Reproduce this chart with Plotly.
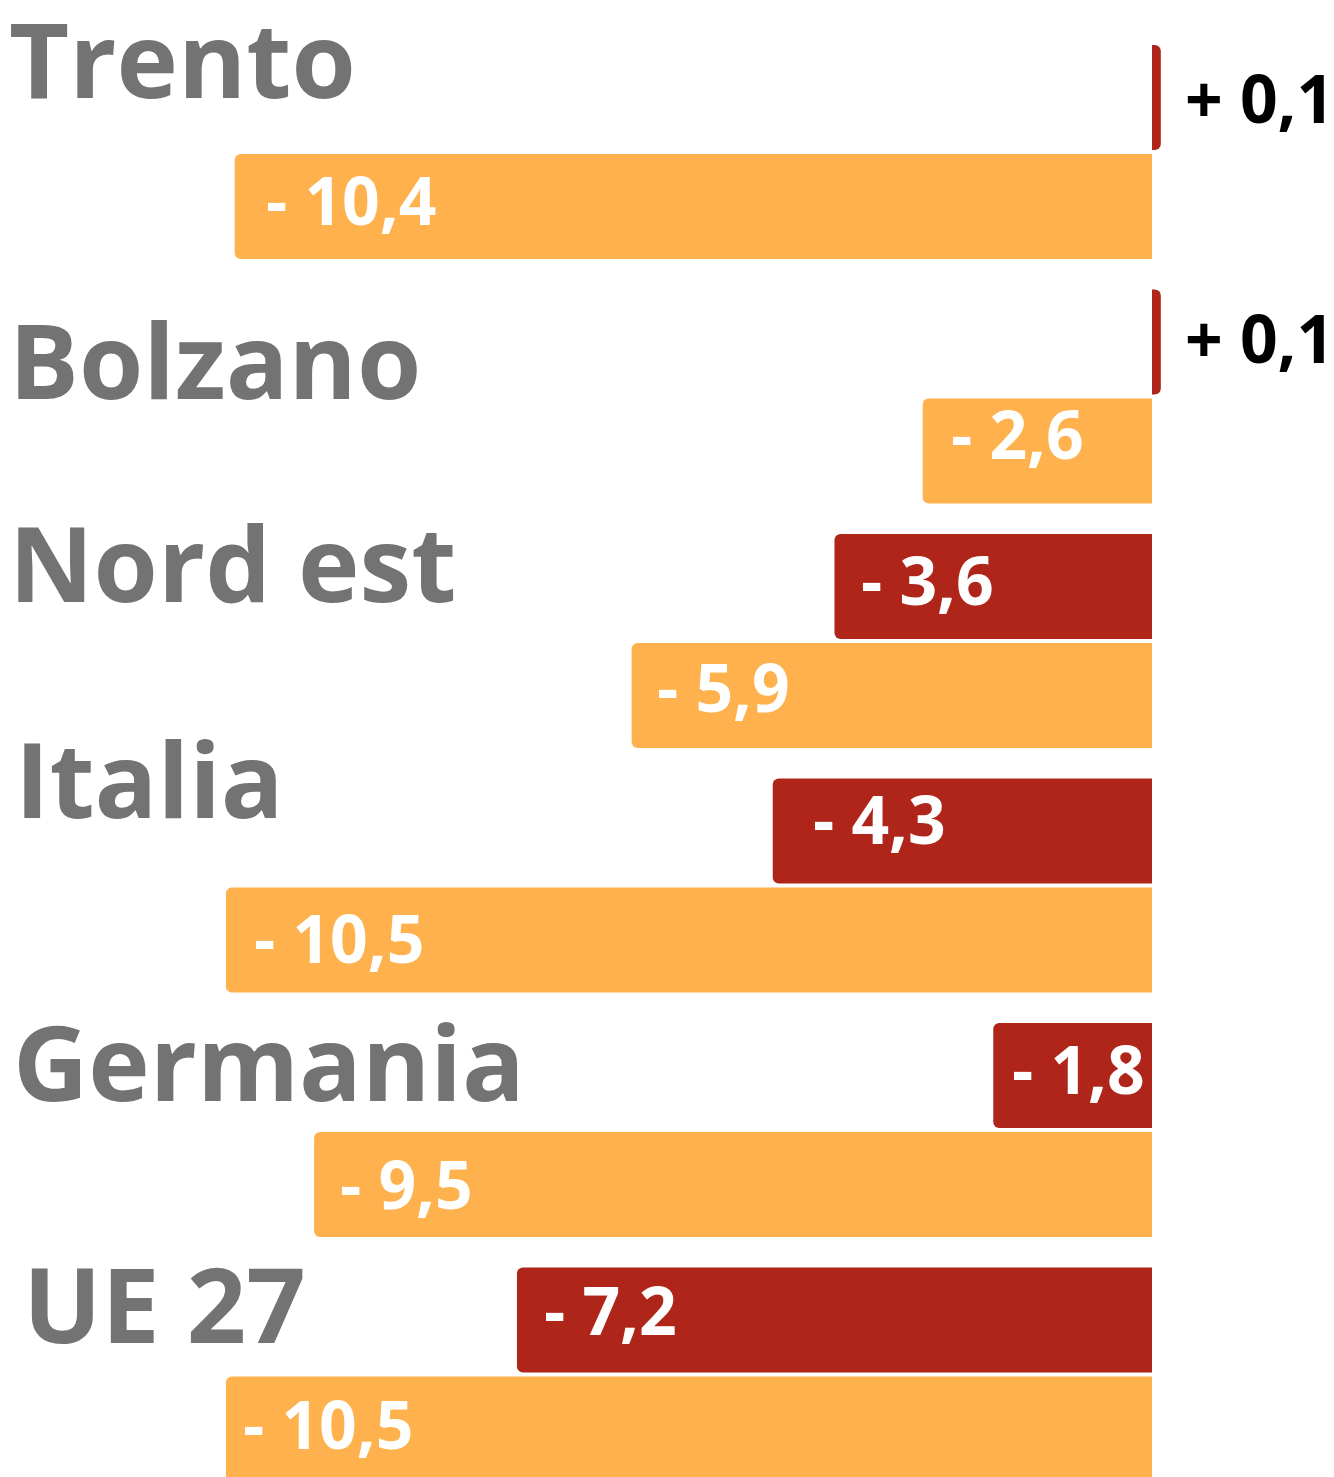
import plotly.graph_objects as go

# ---- data ----
categories = ["Trento", "Bolzano", "Nord est", "Italia", "Germania", "UE 27"]
red_values = [0.1, 0.1, -3.6, -4.3, -1.8, -7.2]
orange_values = [-10.4, -2.6, -5.9, -10.5, -9.5, -10.5]

RED = "#AF2519"
ORANGE = "#FEB14D"
GRAY = "#737373"
FONT = "Open Sans"

# label placement tweaks (pixels)
cat_xshift = [0, 0, 0, 6, 4, 14]
cat_yshift = [95, 38, 80, 108, 70, 72]
red_lbl_dx = [22, 22, 25, 38, 17, 25]
orange_lbl_dx = [29, 26, 23, 26, 24, 15]
red_lbl_dy = [1, 5, 8, 13, 8, 11]
orange_lbl_dy = [8, 18, 10, 3, 2, 6]


def fmt(v):
    sign = "+ " if v > 0 else "- "
    return sign + f"{abs(v):.1f}".replace(".", ",")


fig = go.Figure()
fig.add_trace(go.Bar(y=categories, x=red_values, orientation="h",
                     marker=dict(color=RED, line=dict(width=0)),
                     hoverinfo="skip", showlegend=False))
fig.add_trace(go.Bar(y=categories, x=orange_values, orientation="h",
                     marker=dict(color=ORANGE, line=dict(width=0)),
                     hoverinfo="skip", showlegend=False))

annotations = []
for i, c in enumerate(categories):
    annotations.append(dict(
        xref="paper", x=0, xanchor="left", xshift=cat_xshift[i],
        yref="y", y=c, yanchor="middle", yshift=cat_yshift[i],
        text=f"<b>{c}</b>", showarrow=False, borderpad=0,
        font=dict(family=FONT, size=104, color=GRAY)))
    rv = red_values[i]
    annotations.append(dict(
        xref="x", x=rv, xanchor="left", xshift=red_lbl_dx[i],
        yref="y", y=c, yanchor="middle", yshift=54.5 + red_lbl_dy[i],
        text=f"<b>{fmt(rv)}</b>", showarrow=False,
        font=dict(family=FONT, size=66, color="black" if rv > 0 else "white")))
    ov = orange_values[i]
    annotations.append(dict(
        xref="x", x=ov, xanchor="left", xshift=orange_lbl_dx[i],
        yref="y", y=c, yanchor="middle", yshift=-54.5 + orange_lbl_dy[i],
        text=f"<b>{fmt(ov)}</b>", showarrow=False,
        font=dict(family=FONT, size=66, color="white")))

fig.update_layout(
    width=1326, height=1469,
    margin=dict(l=0, r=0, t=0, b=0),
    paper_bgcolor="white", plot_bgcolor="white",
    barmode="group", bargap=0.108, bargroupgap=0.0367,
    barcornerradius=6,
    xaxis=dict(range=[-12.9705, 2.0635], visible=False, fixedrange=True),
    yaxis=dict(range=[5.4192, -0.5890], visible=False, fixedrange=True,
               type="category", categoryorder="array", categoryarray=categories),
    annotations=annotations,
    font=dict(family=FONT),
)

fig.write_html("out.html")
